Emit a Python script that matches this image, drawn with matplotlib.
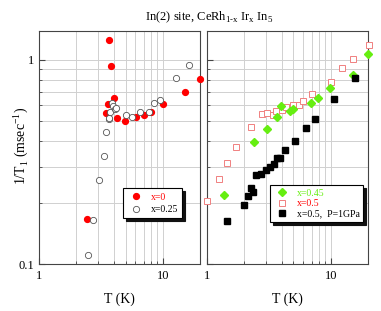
import matplotlib
matplotlib.use("Agg")
import matplotlib.pyplot as plt
from matplotlib.ticker import LogLocator, NullFormatter, FixedLocator, FixedFormatter

plt.rcParams['font.family'] = ['Liberation Serif', 'DejaVu Serif']
plt.rcParams['mathtext.fontset'] = 'custom'
plt.rcParams['mathtext.rm'] = 'Liberation Serif'

# x=0 (red filled circles)
T_x0 = [2.45, 3.47, 3.60, 3.69, 3.79, 4.03, 4.24, 4.98, 6.08, 7.06, 8.09, 10.06, 15.1, 20.0]
R_x0 = [0.166, 0.552, 0.611, 1.258, 0.938, 0.649, 0.522, 0.502, 0.527, 0.540, 0.554, 0.607, 0.699, 0.804]
# x=0.25 (open circles)
T_x025 = [2.51, 2.71, 3.03, 3.32, 3.47, 3.65, 3.70, 3.76, 3.88, 3.96, 4.08, 4.21, 5.04, 5.64, 6.55, 7.8, 8.56, 9.51, 12.8, 16.2]
R_x025 = [0.1107, 0.165, 0.258, 0.337, 0.442, 0.512, 0.52, 0.558, 0.613, 0.593, 0.573, 0.58, 0.538, 0.524, 0.554, 0.558, 0.618, 0.637, 0.816, 0.942]
# x=0.45 (green diamonds)
T_x045 = [1.38, 2.40, 3.03, 3.67, 3.96, 4.68, 4.92, 6.97, 7.89, 9.94, 15.1, 20.1]
R_x045 = [0.218, 0.398, 0.461, 0.526, 0.593, 0.562, 0.573, 0.616, 0.651, 0.726, 0.844, 1.066]
# x=0.5 (open pink squares)
T_x05 = [1.0, 1.24, 1.45, 1.72, 2.27, 2.79, 3.03, 3.41, 3.63, 4.03, 4.37, 4.92, 5.57, 5.93, 7.06, 10.06, 12.4, 15.1, 20.3]
R_x05 = [0.204, 0.260, 0.314, 0.376, 0.468, 0.542, 0.552, 0.535, 0.563, 0.569, 0.590, 0.600, 0.602, 0.63, 0.681, 0.783, 0.917, 1.008, 1.18]
# x=0.5, P=1GPa (black squares)
T_x05P = [1.44, 2.0, 2.14, 2.27, 2.35, 2.51, 2.72, 2.99, 3.22, 3.45, 3.65, 3.86, 4.24, 5.14, 6.31, 7.51, 10.6, 15.6]
R_x05P = [0.163, 0.194, 0.216, 0.235, 0.226, 0.272, 0.277, 0.289, 0.30, 0.309, 0.331, 0.331, 0.362, 0.401, 0.466, 0.516, 0.642, 0.816]

fig = plt.figure(figsize=(3.81, 3.11), dpi=100)
axL = fig.add_axes([0.1024, 0.1511, 0.4226, 0.750])
axR = fig.add_axes([0.5433, 0.1511, 0.4226, 0.750])

grid_x = [2, 3, 4, 5, 6, 7, 8, 9, 10, 20]
grid_y = [0.2, 0.3, 0.4, 0.5, 0.6, 0.7, 0.8, 0.9, 1.0]

for ax in (axL, axR):
    ax.set_xscale('log')
    ax.set_yscale('log')
    ax.set_xlim(1, 20)
    ax.set_ylim(0.1, 1.39)
    for g in grid_x:
        ax.axvline(g, color='#d0d0d0', lw=0.7, zorder=0)
    for g in grid_y:
        ax.axhline(g, color='#d0d0d0', lw=0.7, zorder=0)
    ax.xaxis.set_major_locator(FixedLocator([1, 10]))
    ax.xaxis.set_major_formatter(FixedFormatter(['1', '10']))
    ax.xaxis.set_minor_locator(LogLocator(base=10, subs=range(2, 10)))
    ax.xaxis.set_minor_formatter(NullFormatter())
    ax.yaxis.set_major_locator(FixedLocator([0.1, 1]))
    ax.yaxis.set_minor_locator(LogLocator(base=10, subs=range(2, 10)))
    ax.yaxis.set_minor_formatter(NullFormatter())
    ax.tick_params(which='both', direction='in', labelsize=9, color='#444444')
    ax.tick_params(which='major', length=4)
    ax.tick_params(which='minor', length=2)
    ax.tick_params(axis='x', pad=4)
    for s in ax.spines.values():
        s.set_color('#444444')
        s.set_linewidth(0.8)
    ax.set_xlabel('T (K)', fontsize=10, labelpad=8)

axL.yaxis.set_major_formatter(FixedFormatter(['0.1', '1']))
axR.yaxis.set_major_formatter(NullFormatter())
axR.tick_params(axis='y', which='both', labelleft=False)

axL.plot(T_x0, R_x0, 'o', ms=4.2, color='#ff0000', mec='#ff0000', label='x=0', clip_on=False, zorder=3)
axL.plot(T_x025, R_x025, 'o', ms=4.5, mfc='white', mec='#555555', mew=0.6, label='x=0.25', clip_on=False, zorder=3)

axR.plot(T_x05, R_x05, 's', ms=5.0, mfc='white', mec='#f08080', mew=0.7, label='x=0.5', clip_on=False, zorder=3)
axR.plot(T_x045, R_x045, 'D', ms=3.6, color='#66ee11', mec='#66ee11', label='x=0.45', clip_on=False, zorder=4)
axR.plot(T_x05P, R_x05P, 's', ms=4.8, color='black', label='x=0.5,  P=1GPa', clip_on=False, zorder=5)

shadow_props = {'color': '#111111', 'alpha': 1.0}

legL = axL.legend(loc='lower right', bbox_to_anchor=(0.92, 0.175), fontsize=7, frameon=True,
                  fancybox=False, shadow=shadow_props, edgecolor='black', framealpha=1,
                  handletextpad=0.6, borderpad=0.45, labelspacing=0.35, handlelength=1.8)
legL.get_frame().set_linewidth(0.8)
for t, c in zip(legL.get_texts(), ['#ff0000', 'black']):
    t.set_color(c)

handles, labels = axR.get_legend_handles_labels()
order = [1, 0, 2]
legR = axR.legend([handles[i] for i in order], [labels[i] for i in order],
                  loc='lower right', bbox_to_anchor=(1.0, 0.16), fontsize=7, frameon=True,
                  fancybox=False, shadow=shadow_props, edgecolor='black', framealpha=1,
                  handletextpad=0.6, borderpad=0.35, labelspacing=0.15, handlelength=1.8)
legR.get_frame().set_linewidth(0.8)
for t, c in zip(legR.get_texts(), ['#66ee11', '#ff0000', 'black']):
    t.set_color(c)

fig.text(21 / 381, 0.53, r'1/T$_1$ (msec$^{-1}$)', fontsize=10, rotation=90, ha='center', va='center')
fig.text(0.55, 0.935, r'In(2) site, CeRh$_{\rm 1\text{-}x}$ Ir$_{\rm x}$ In$_{\rm 5}$', ha='center', fontsize=9)

fig.savefig('out.png', dpi=100)
